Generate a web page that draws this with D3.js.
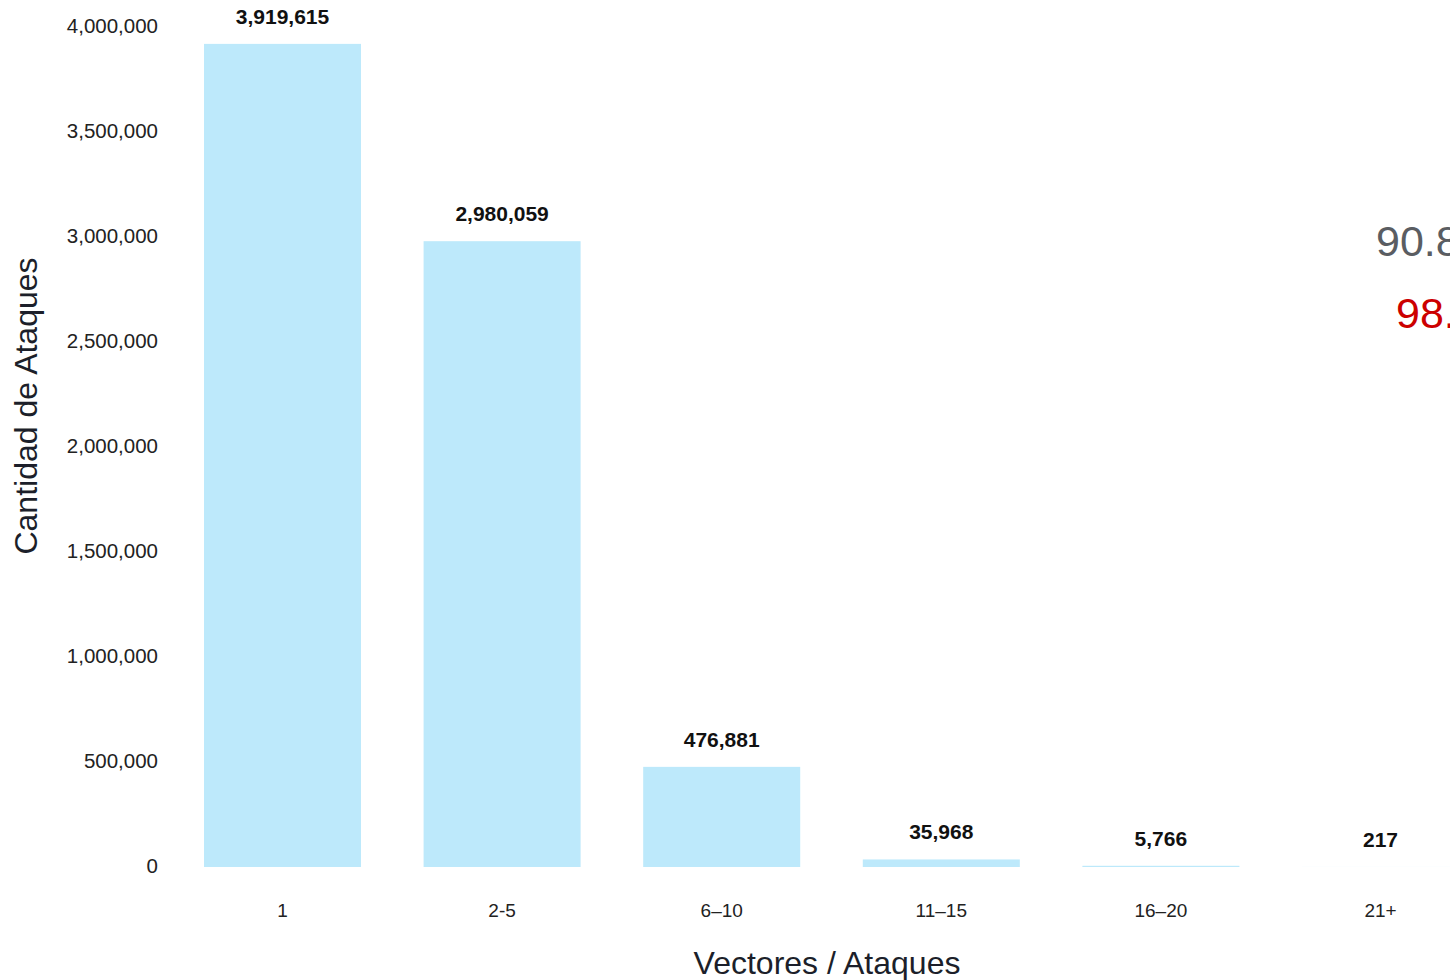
<!DOCTYPE html>
<html>
<head>
<meta charset="utf-8">
<script src="https://cdn.jsdelivr.net/npm/d3@7"></script>
<style>
  html, body { margin: 0; padding: 0; background: #fff; overflow: hidden; }
  svg { display: block; font-family: "Liberation Sans", Arial, Helvetica, sans-serif; }
</style>
</head>
<body>
<svg id="chart" width="1450" height="980"></svg>
<script>
// Distribution of attacks by number of vectors
const categories = ["1", "2-5", "6–10", "11–15", "16–20", "21+"];
const attacks = [3919615, 2980059, 476881, 35968, 5766, 217];
const yTicks = [0, 500000, 1000000, 1500000, 2000000, 2500000, 3000000, 3500000, 4000000];
const sideNotes = ["90.8%", "98.9%"];

const svg = d3.select("#chart");
const fmt = d3.format(",");

const x = d3.scaleBand()
  .domain(categories)
  .range([172.7, 1490.3])
  .paddingInner(0.285)
  .paddingOuter(0.1425);

const y = d3.scaleLinear()
  .domain([0, 4000000])
  .range([867, 27]);

// Bars
svg.append("g").selectAll("rect")
  .data(categories)
  .join("rect")
  .attr("x", d => x(d))
  .attr("y", (d, i) => y(attacks[i]))
  .attr("width", x.bandwidth())
  .attr("height", (d, i) => y(0) - y(attacks[i]))
  .attr("fill", "#bde9fb");

// Value labels above each bar
svg.append("g").selectAll("text")
  .data(categories)
  .join("text")
  .attr("x", d => x(d) + x.bandwidth() / 2)
  .attr("y", (d, i) => y(attacks[i]) - 20)
  .attr("text-anchor", "middle")
  .attr("font-size", 21)
  .attr("font-weight", "bold")
  .attr("fill", "#111")
  .text((d, i) => fmt(attacks[i]));

// Y axis (labels only)
const yAxis = svg.append("g")
  .attr("transform", "translate(158,-1)")
  .call(d3.axisLeft(y).tickValues(yTicks).tickFormat(fmt).tickSize(0).tickPadding(0));
yAxis.select(".domain").remove();
yAxis.selectAll("text")
  .attr("font-size", 20.5)
  .attr("font-family", "'Liberation Sans', Arial, sans-serif")
  .attr("fill", "#222");

// X axis (labels only)
const xAxis = svg.append("g")
  .attr("transform", "translate(0,903)")
  .call(d3.axisBottom(x).tickSize(0).tickPadding(0));
xAxis.select(".domain").remove();
xAxis.selectAll("text")
  .attr("dy", "0.71em")
  .attr("font-size", 19)
  .attr("font-family", "'Liberation Sans', Arial, sans-serif")
  .attr("fill", "#222");

// Axis titles
svg.append("text")
  .attr("transform", "translate(37,406) rotate(-90)")
  .attr("text-anchor", "middle")
  .attr("font-size", 32)
  .attr("fill", "#1c1f2a")
  .text("Cantidad de Ataques");

svg.append("text")
  .attr("x", 827)
  .attr("y", 974)
  .attr("text-anchor", "middle")
  .attr("font-size", 32)
  .attr("fill", "#1c1f2a")
  .text("Vectores / Ataques");

// Side notes
svg.append("text")
  .attr("x", 1376)
  .attr("y", 256)
  .attr("font-size", 43)
  .attr("fill", "#5a5d62")
  .text(sideNotes[0]);

svg.append("text")
  .attr("x", 1396)
  .attr("y", 328)
  .attr("font-size", 43)
  .attr("fill", "#cc0000")
  .text(sideNotes[1]);
</script>
</body>
</html>
